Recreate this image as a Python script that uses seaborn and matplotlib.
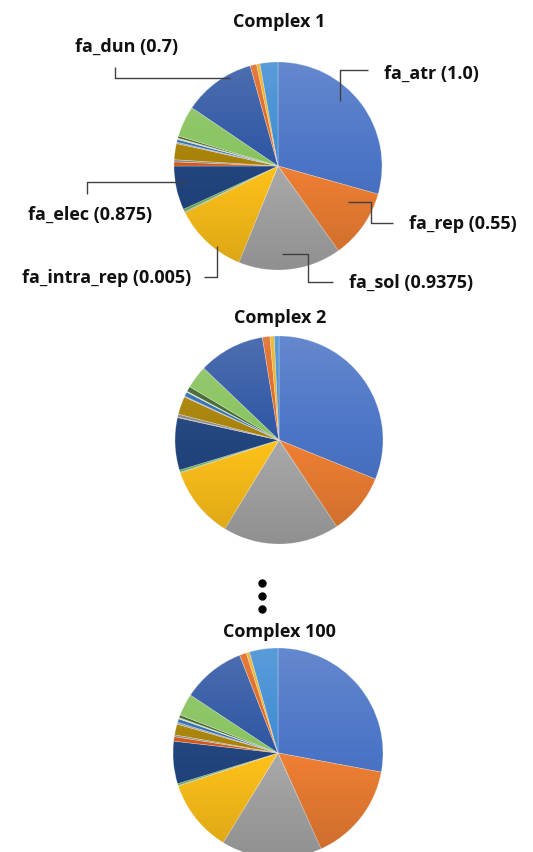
import numpy as np
import matplotlib
matplotlib.use("Agg")
import matplotlib.pyplot as plt
import seaborn as sns
from matplotlib.patches import Circle

# Score terms in the order they are stacked around each pie (clockwise from 12 o'clock)
terms = ["fa_atr", "fa_rep", "fa_sol", "fa_intra_rep", "fa_intra_sol_xover4",
         "lk_ball_wtd", "fa_elec", "pro_close", "hbond_sr_bb", "hbond_lr_bb",
         "hbond_bb_sc", "hbond_sc", "dslf_fa13", "rama_prepro", "omega",
         "fa_dun", "p_aa_pp", "yhh_planarity", "ref"]

term_colors = ["#4A74C6", "#EF7F34", "#A9A9A9", "#FFC21A", "#5B9BD5",
               "#6FB046", "#22457F", "#D0581A", "#8A8A8A", "#A88206",
               "#9A9A9A", "#2F6FB0", "#D8D0A8", "#41672C", "#88C35E",
               "#2E56A3", "#E0641C", "#EAB01C", "#3D8BD3"]

# Share of the total weighted score (%) for each term
complex_1 = [29.36, 10.78, 16.00, 11.47, 0.14, 0.42, 6.83, 0.64, 0.33, 2.50,
             0.22, 0.42, 0.22, 0.33, 4.81, 11.22, 1.00, 0.53, 2.78]
complex_2 = [31.14, 9.50, 18.08, 11.17, 0.11, 0.33, 8.14, 0.08, 0.47, 2.78,
             0.14, 0.69, 0.14, 0.81, 3.56, 10.31, 1.17, 0.67, 0.72]
complex_100 = [27.92, 15.36, 15.47, 11.17, 0.08, 0.28, 6.53, 0.69, 0.28, 1.67,
               0.28, 0.56, 0.19, 0.44, 3.39, 9.75, 1.06, 0.50, 4.39]

titles = ["Complex 1", "Complex 2", "Complex 100"]

# Term weights shown on the first pie
weight_labels = ["fa_atr (1.0)", "fa_rep (0.55)", "fa_sol (0.9375)",
                 "fa_intra_rep (0.005)", "fa_elec (0.875)", "fa_dun (0.7)"]

sns.set_theme(style="white")
plt.rcParams["font.family"] = ["Open Sans", "DejaVu Sans"]

W, H = 533, 853
fig = plt.figure(figsize=(W / 100, H / 100), dpi=100)
fig.patch.set_facecolor("white")

# overlay in pixel units for titles and leader lines
over = fig.add_axes([0, 0, 1, 1])
over.set_xlim(0, W)
over.set_ylim(H, 0)
over.axis("off")

pie_geom = [(278, 167, 104), (279, 441, 104), (278, 754, 105)]
title_y = [22, 318, 632]

grad = np.linspace(0, 1, 256).reshape(-1, 1)
shade = np.zeros((256, 1, 4))
shade[..., :3] = np.where(grad[..., None] < 0.5, 1.0, 0.0)
shade[..., 3] = np.abs(grad - 0.5) * 0.30

for (cx, cy, r), vals, ttl, ty in zip(pie_geom, [complex_1, complex_2, complex_100],
                                       titles, title_y):
    ax = fig.add_axes([(cx - r) / W, 1 - (cy + r) / H, 2 * r / W, 2 * r / H], zorder=1)
    ax.pie(vals, colors=term_colors, startangle=90, counterclock=False, radius=1,
           wedgeprops=dict(edgecolor=(1, 1, 1, 0.35), linewidth=0.5))
    im = ax.imshow(shade, extent=(-1, 1, -1, 1), aspect="auto", zorder=5)
    im.set_clip_path(Circle((0, 0), 1, transform=ax.transData))
    ax.set_xlim(-1, 1)
    ax.set_ylim(-1, 1)
    ax.axis("off")
    over.text(cx + 1, ty, ttl, ha="center", va="center", fontsize=13,
              fontweight="bold", color="#111111")

over.set_zorder(2)

# vertical ellipsis between Complex 2 and Complex 100
over.plot([262, 262, 262], [584, 597, 610], "o", color="black", markersize=5)

lc = "#404040"
lw = 1.0
# leader lines: (path points, label position, alignment)
leaders = [
    ([(340, 102), (340, 71), (368, 71)], (384, 74), "left"),
    ([(348, 203), (371, 203), (371, 224), (393, 224)], (409, 224), "left"),
    ([(282, 255), (308, 255), (308, 283), (333, 283)], (349, 283), "left"),
    ([(217, 247), (217, 278), (204, 278)], (191, 278), "right"),
    ([(185, 183), (87, 183), (87, 195)], (90, 215), "center"),
    ([(230, 79), (115, 79), (115, 68)], (127, 47), "center"),
]
for (pts, (lx, ly), ha), lab in zip(leaders, weight_labels):
    xs, ys = zip(*pts)
    over.plot(xs, ys, color=lc, lw=lw, solid_capstyle="butt")
    over.text(lx, ly, lab, ha=ha, va="center", fontsize=13, fontweight="bold",
              color="#111111")

fig.savefig("out.png", dpi=100, facecolor="white")
